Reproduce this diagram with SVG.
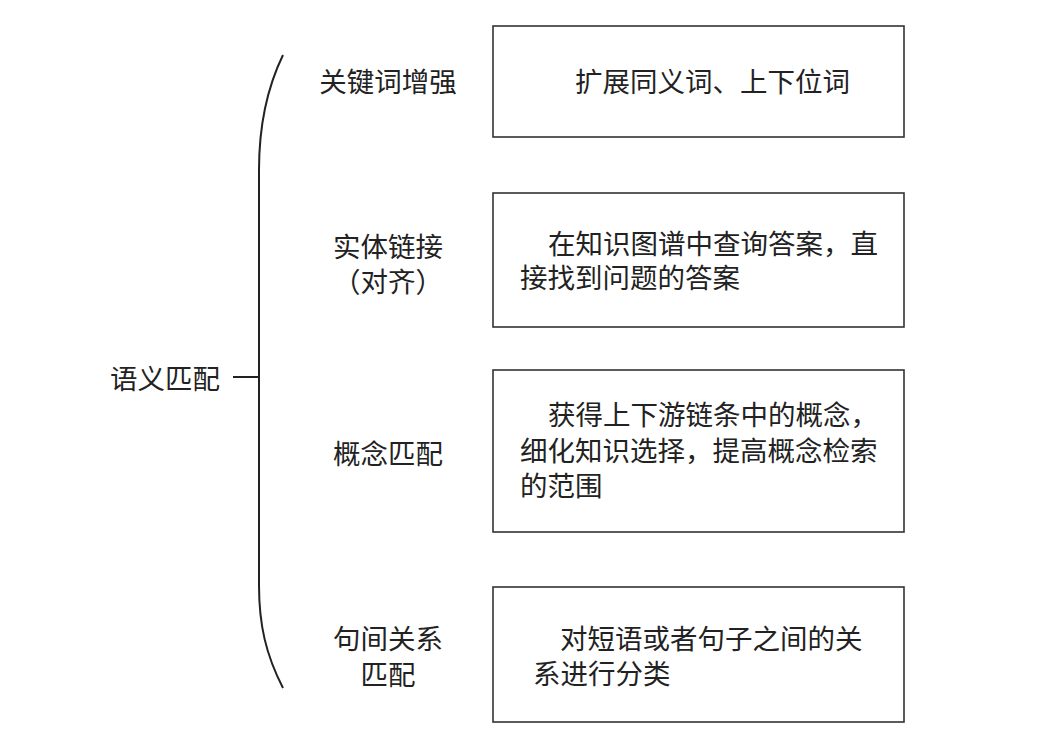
<svg xmlns="http://www.w3.org/2000/svg" width="1037" height="741" viewBox="0 0 1037 741">
<style>
text{font-family:"Noto Sans CJK SC","Noto Sans",sans-serif;font-size:27.5px;fill:#222;dominant-baseline:central}
.box{fill:#fff;stroke:#333;stroke-width:1.6}
.ln{fill:none;stroke:#222;stroke-width:2}
.c{text-anchor:middle}
</style>
<rect width="1037" height="741" fill="#fff"/>
<g id="connectors">
<path class="ln" d="M283,55 C266,90 259,130 259,170 L259,585 C259,625 266,655 283,688"/>
<line class="ln" x1="233" y1="377" x2="259" y2="377"/>
</g>
<g id="root"><text x="110" y="377">语义匹配</text></g>
<g id="label1"><text class="c" x="388" y="80">关键词增强</text></g>
<g id="label2"><text class="c" x="388" y="245">实体链接</text><text class="c" x="388" y="280">（对齐）</text></g>
<g id="label3"><text class="c" x="388" y="452">概念匹配</text></g>
<g id="label4"><text class="c" x="388" y="637">句间关系</text><text class="c" x="388" y="673">匹配</text></g>
<g id="box1"><rect class="box" x="493" y="26" width="411" height="111"/><text x="575" y="80">扩展同义词、上下位词</text></g>
<g id="box2"><rect class="box" x="493" y="193" width="411" height="134"/><text x="548" y="242">在知识图谱中查询答案，直</text><text x="520" y="276">接找到问题的答案</text></g>
<g id="box3"><rect class="box" x="493" y="370" width="411" height="162"/><text x="548" y="413">获得上下游链条中的概念，</text><text x="520" y="449">细化知识选择，提高概念检索</text><text x="520" y="484">的范围</text></g>
<g id="box4"><rect class="box" x="493" y="587" width="411" height="135"/><text x="560" y="637">对短语或者句子之间的关</text><text x="533" y="672">系进行分类</text></g>
</svg>
